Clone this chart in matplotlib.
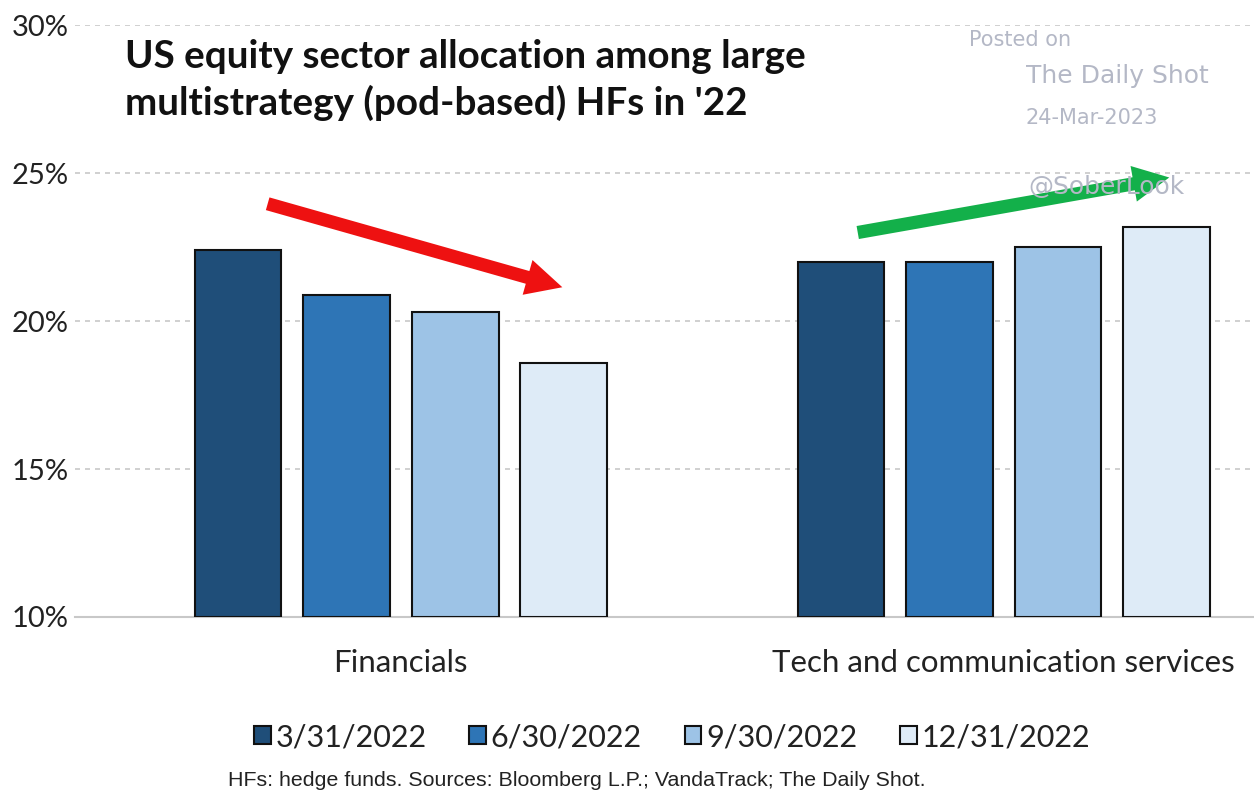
import matplotlib
matplotlib.use("Agg")
import matplotlib.pyplot as plt
import numpy as np

categories = ["Financials", "Tech and communication services"]
dates = ["3/31/2022", "6/30/2022", "9/30/2022", "12/31/2022"]
values = {
    "3/31/2022": [22.4, 22.0],
    "6/30/2022": [20.9, 22.0],
    "9/30/2022": [20.3, 22.5],
    "12/31/2022": [18.6, 23.2],
}
colors = ["#1f4e79", "#2e75b6", "#9dc3e6", "#deebf7"]
yticks = [10, 15, 20, 25, 30]
ytick_labels = ["10%", "15%", "20%", "25%", "30%"]

fig = plt.figure(figsize=(12.54, 7.93), dpi=100)
ax = fig.add_axes([0.06, 0.222, 0.94, 0.746])

x = np.arange(len(categories))
slot = 0.18
bw = slot * 0.8
for i, d in enumerate(dates):
    ax.bar(x + (i - 1.5) * slot, np.array(values[d]) - 10, bottom=10, width=bw,
           color=colors[i], edgecolor="#111111", linewidth=1.5, zorder=3, label=d)

ax.set_ylim(10, 30)
ax.set_xlim(-0.54, 1.415)
ax.set_yticks(yticks)
ax.set_yticklabels(ytick_labels, fontsize=21, family="Lato", color="#222222")
ax.set_xticks(x)
ax.set_xticklabels(categories, fontsize=22.5, family="Lato", color="#222222")
ax.tick_params(axis="y", length=0, pad=5)
ax.tick_params(axis="x", length=0, pad=23)
for yv in yticks[1:]:
    ax.axhline(yv, color="#c8c8c8", linestyle=(0, (3, 3)), linewidth=1.2, zorder=1)
for s in ["top", "right", "left"]:
    ax.spines[s].set_visible(False)
ax.spines["bottom"].set_color("#c8c8c8")
ax.spines["bottom"].set_linewidth(1.5)

fig.text(125/1254, 1-80/793, "US equity sector allocation among large\nmultistrategy (pod-based) HFs in '22",
         fontsize=27.8, fontweight="bold", family="Lato", color="#111111",
         va="center", ha="left", linespacing=1.35)

wm = "#b4b8c6"
fig.text(1020/1254, 1-40/793, "Posted on", fontsize=15, color=wm, ha="center", va="center")
fig.text(1117/1254, 1-76/793, "The Daily Shot", fontsize=18, color=wm, ha="center", va="center")
fig.text(1092/1254, 1-118/793, "24-Mar-2023", fontsize=15, color=wm, ha="center", va="center")
fig.text(1107/1254, 1-187/793, "@SoberLook", fontsize=18, color=wm, ha="center", va="center")

fig.add_artist(matplotlib.patches.FancyArrowPatch(
    (265/1254, 1-203/793), (565/1254, 1-288/793), transform=fig.transFigure,
    arrowstyle="simple,head_width=2.6,head_length=2.6,tail_width=0.95",
    mutation_scale=10, color="#ee1111", lw=0))
fig.add_artist(matplotlib.patches.FancyArrowPatch(
    (855/1254, 1-233/793), (1172/1254, 1-177/793), transform=fig.transFigure,
    arrowstyle="simple,head_width=2.6,head_length=2.6,tail_width=0.95",
    mutation_scale=10, color="#13b04a", lw=0))

leg = fig.legend(loc="center", bbox_to_anchor=(672/1254, 1-737/793), ncol=4,
                 frameon=False, prop={"family": "Lato", "size": 22},
                 handlelength=0.55, handleheight=0.55, handletextpad=0.15, columnspacing=1.4)
for t in leg.get_texts():
    t.set_color("#222222")

fig.text(228/1254, 1-780/793, "HFs: hedge funds. Sources: Bloomberg L.P.; VandaTrack; The Daily Shot.",
         fontsize=15.4, family="Liberation Sans", color="#222222", ha="left", va="center")

fig.savefig("out.png", dpi=100)
